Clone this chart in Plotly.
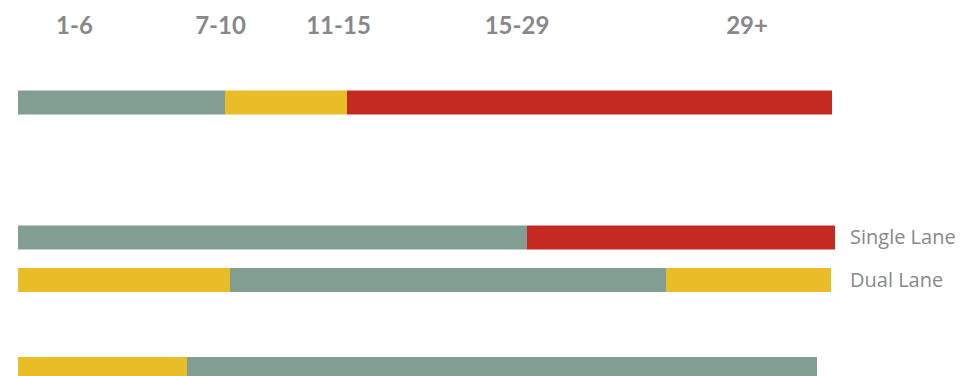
import plotly.graph_objects as go

# Range bands shown across the top
band_labels = ["1-6", "7-10", "11-15", "15-29", "29+"]
band_centers = [56.5, 202.5, 320.5, 499, 729]

# Row names (blank rows carry no label)
row_names = ["", "Single Lane", "Dual Lane", ""]

# Segment lengths and colour keys for each row, left to right
row_lengths = [
    [207, 122, 485],
    [509, 308],
    [212, 436, 165],
    [169, 630],
]
row_colors = [
    ["grey", "yellow", "red"],
    ["grey", "red"],
    ["yellow", "grey", "yellow"],
    ["yellow", "grey"],
]

PALETTE = {"grey": "#829d91", "yellow": "#e8bd28", "red": "#c42a22"}
ROW_POS = [0, 3.04, 4.0, 6.0]
BAR_W = 0.54
TEXT_GREY = "#88888c"

fig = go.Figure()
for pos, lengths, colors in zip(ROW_POS, row_lengths, row_colors):
    start = 0
    for length, key in zip(lengths, colors):
        fig.add_trace(go.Bar(
            orientation="h",
            y=[pos],
            x=[length],
            base=[start],
            width=BAR_W,
            marker=dict(color=PALETTE[key], line=dict(width=0)),
            showlegend=False,
            hoverinfo="skip",
        ))
        start += length

fig.update_layout(
    width=962,
    height=376,
    margin=dict(l=18, r=121, t=40, b=0),
    paper_bgcolor="white",
    plot_bgcolor="white",
    barmode="overlay",
    xaxis=dict(
        range=[0, 823],
        side="top",
        tickmode="array",
        tickvals=band_centers,
        ticktext=band_labels,
        tickfont=dict(family="Lato", size=24, color=TEXT_GREY, weight="bold"),
        showgrid=False,
        zeroline=False,
        showline=False,
        ticks="",
        automargin=False,
    ),
    yaxis=dict(
        range=[6.16, -1.408],
        side="right",
        tickmode="array",
        tickvals=ROW_POS,
        ticktext=row_names,
        tickfont=dict(family="Open Sans", size=20, color=TEXT_GREY),
        ticklabelstandoff=8,
        showgrid=False,
        zeroline=False,
        showline=False,
        ticks="",
        automargin=False,
    ),
)

fig.write_html("out.html")
